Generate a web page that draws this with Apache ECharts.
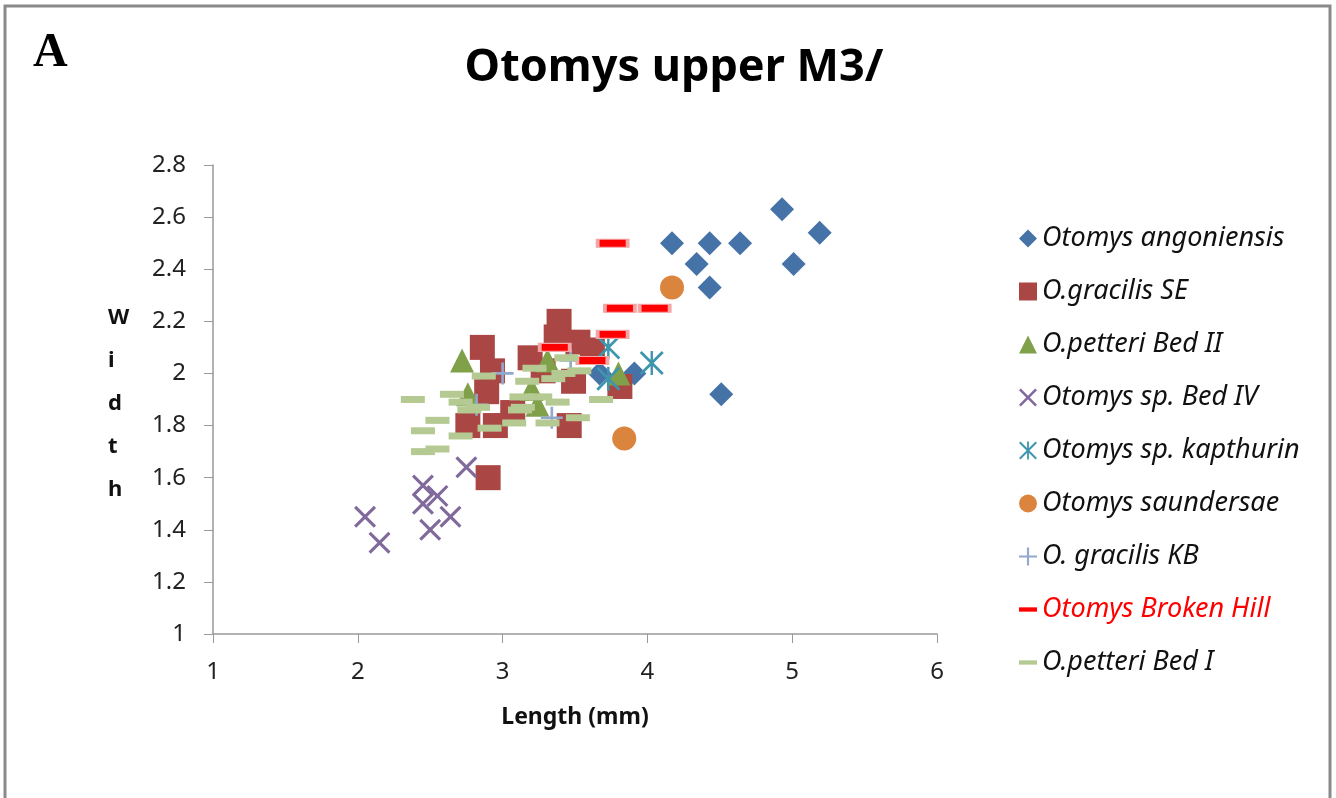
<!DOCTYPE html>
<html>
<head>
<meta charset="utf-8">
<script src="https://cdn.jsdelivr.net/npm/echarts@6/dist/echarts.min.js"></script>
<style>
  html, body { margin: 0; padding: 0; background: #fff; }
  #chart { width: 1336px; height: 798px; }
</style>
</head>
<body>
<div id="chart"></div>
<script>
// data: [length, width]
const angoniensis = [[4.93, 2.63], [5.19, 2.54], [4.17, 2.50], [4.43, 2.50], [4.64, 2.50], [4.34, 2.42],
    [5.01, 2.42], [4.43, 2.33], [4.51, 1.92], [3.91, 2.00], [3.67, 2.00]];
const gracilisSE = [[3.39, 2.20], [3.37, 2.14], [3.52, 2.12], [3.62, 2.09], [3.19, 2.06], [2.86, 2.10],
    [2.93, 2.01], [2.89, 1.93], [3.07, 1.85], [2.76, 1.80], [2.95, 1.80], [3.49, 1.97], [3.46, 1.80],
    [3.81, 1.95], [2.90, 1.60], [3.28, 2.01]];
const petteriBedII = [[2.72, 2.05], [3.31, 2.05], [3.80, 2.00], [2.76, 1.92], [3.20, 1.94], [3.24, 1.88]];
const spBedIV = [[2.75, 1.64], [2.45, 1.57], [2.55, 1.53], [2.45, 1.50], [2.64, 1.45], [2.50, 1.40],
    [2.05, 1.45], [2.15, 1.35]];
const spKapthurin = [[3.73, 2.10], [4.03, 2.04], [3.73, 1.98]];
const saundersae = [[4.17, 2.33], [3.84, 1.75]];
const gracilisKB = [[3.00, 2.00], [2.82, 1.88], [3.34, 1.83], [3.47, 2.05]];
const brokenHill = [[3.76, 2.50], [3.81, 2.25], [4.05, 2.25], [3.76, 2.15], [3.36, 2.10], [3.62, 2.05]];
const petteriBedI = [[2.38, 1.90], [2.65, 1.92], [2.71, 1.89], [2.77, 1.86], [2.55, 1.82], [2.45, 1.78],
    [2.71, 1.76], [2.45, 1.70], [2.55, 1.71], [2.87, 1.99], [3.17, 1.97], [3.13, 1.91], [3.14, 1.87],
    [3.08, 1.81], [2.91, 1.79], [2.83, 1.87], [3.44, 2.06], [3.22, 2.02], [3.42, 2.00], [3.53, 2.01],
    [3.35, 1.98], [3.26, 1.91], [3.38, 1.89], [3.68, 1.90], [3.52, 1.83], [3.31, 1.81], [3.12, 1.86]];

const xTicks = [1, 2, 3, 4, 5, 6];
const yTicks = [1, 1.2, 1.4, 1.6, 1.8, 2, 2.2, 2.4, 2.6, 2.8];

// marker shapes
const xPath = 'path://M0,10 L10,0 L50,40 L90,0 L100,10 L60,50 L100,90 L90,100 L50,60 L10,100 L0,90 L40,50 Z';
const starPath = 'path://M0,8 L8,0 L50,42 L92,0 L100,8 L58,50 L100,92 L92,100 L50,58 L8,100 L0,92 L42,50 Z M45,0 L55,0 L55,100 L45,100 Z';
const plusPath = 'path://M44,0 L56,0 L56,44 L100,44 L100,56 L56,56 L56,100 L44,100 L44,56 L0,56 L0,44 L44,44 Z';
// dash for the legend, with empty segments so the box stays square
const dashIcon = 'path://M0,0 L0,0 M0,100 L0,100 M0,38 L100,38 L100,62 L0,62 Z';

const myChart = echarts.init(document.getElementById('chart'));

const seriesDefs = [
    {name: 'Otomys angoniensis', data: angoniensis, symbol: 'diamond', size: 24, color: '#4572A7', icon: 'diamond'},
    {name: 'O.gracilis SE', data: gracilisSE, symbol: 'rect', size: 25, color: '#AA4643', icon: 'rect'},
    {name: 'O.petteri Bed II', data: petteriBedII, symbol: 'triangle', size: 24, color: '#80A04A', icon: 'triangle'},
    {name: 'Otomys sp. Bed IV', data: spBedIV, symbol: xPath, size: 22, color: '#80699B', icon: xPath},
    {name: 'Otomys sp. kapthurin', data: spKapthurin, symbol: starPath, size: 24, color: '#3D96AE', icon: starPath},
    {name: 'Otomys saundersae', data: saundersae, symbol: 'circle', size: 24, color: '#DB843D', icon: 'circle'},
    {name: 'O. gracilis KB', data: gracilisKB, symbol: plusPath, size: 22, color: '#92A8CD', icon: plusPath},
    {name: 'Otomys Broken Hill', data: brokenHill, symbol: 'rect', size: [30, 8], color: '#FF0000', border: '#F4A6A6', icon: dashIcon},
    {name: 'O.petteri Bed I', data: petteriBedI, symbol: 'rect', size: [24, 7], color: '#B5CA92', icon: dashIcon}
];

const axisText = {color: '#222', fontSize: 24, fontFamily: 'Noto Sans'};

const option = {
    backgroundColor: '#fff',
    animation: false,
    title: {
        text: 'Otomys upper M3/',
        left: 669,
        textAlign: 'center',
        top: 41,
        textStyle: {fontFamily: 'Noto Sans', fontWeight: 'bold', fontSize: 45, color: '#000'}
    },
    legend: {
        orient: 'vertical',
        left: 1014,
        top: 220,
        itemWidth: 18,
        itemHeight: 18,
        itemGap: 26,
        textStyle: {fontFamily: 'Noto Sans', fontStyle: 'italic', fontSize: 27, color: '#111', lineHeight: 22},
        data: seriesDefs.map(s => ({
            name: s.name,
            icon: s.icon,
            itemStyle: {borderWidth: 0},
            textStyle: s.name === 'Otomys Broken Hill' ? {color: '#FF0000'} : undefined
        }))
    },
    grid: {left: 213, right: 399, top: 165, bottom: 164},
    xAxis: {
        type: 'value',
        min: xTicks[0],
        max: xTicks[xTicks.length - 1],
        interval: 1,
        splitLine: {show: false},
        axisLine: {lineStyle: {color: '#999', width: 1.5}},
        axisTick: {show: true, length: 9, lineStyle: {color: '#999'}},
        axisLabel: Object.assign({margin: 26}, axisText),
        name: 'Length (mm)',
        nameLocation: 'middle',
        nameGap: 72,
        nameTextStyle: {fontFamily: 'Noto Sans', fontWeight: 'bold', fontSize: 23, color: '#111'}
    },
    yAxis: {
        type: 'value',
        min: yTicks[0],
        max: yTicks[yTicks.length - 1],
        interval: 0.2,
        splitLine: {show: false},
        axisLine: {show: true, lineStyle: {color: '#999', width: 1.5}},
        axisTick: {show: true, length: 9, lineStyle: {color: '#999'}},
        axisLabel: Object.assign({margin: 27}, axisText)
    },
    graphic: [
        {type: 'rect', shape: {x: 5, y: 6, width: 1325, height: 820}, style: {fill: 'none', stroke: '#8a8a8a', lineWidth: 3}, silent: true},
        {type: 'text', left: 33, top: 30, style: {text: 'A', font: 'bold 48px "Liberation Serif"', fill: '#000'}},
        {type: 'text', left: 108, top: 296, style: {text: 'W\ni\nd\nt\nh', font: 'bold 22px "Noto Sans"', fill: '#111', lineHeight: 43, align: 'center', width: 30}}
    ],
    series: seriesDefs.map(s => ({
        name: s.name,
        type: 'scatter',
        data: s.data,
        symbol: s.symbol,
        symbolSize: s.size,
        itemStyle: {
            color: s.color,
            borderColor: s.border || s.color,
            borderWidth: s.border ? 2 : 0,
            opacity: 1
        }
    }))
};

myChart.setOption(option);
</script>
</body>
</html>
